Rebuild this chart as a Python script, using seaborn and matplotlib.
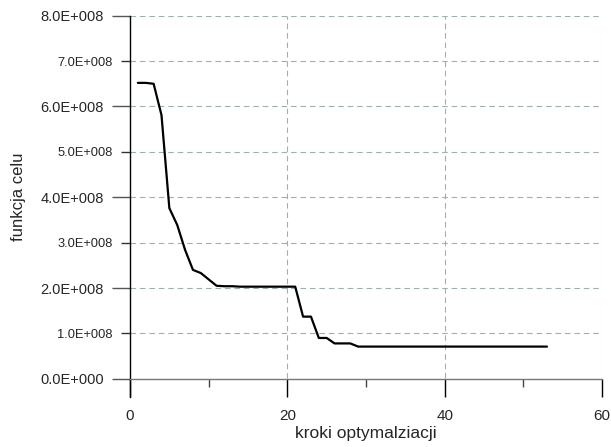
import matplotlib
matplotlib.use("Agg")
import matplotlib.pyplot as plt
import seaborn as sns
from matplotlib.ticker import FixedLocator, FuncFormatter

# dane
kroki = list(range(1, 54))
funkcja_celu = [
    6.52e8, 6.52e8, 6.50e8, 5.81e8, 3.76e8, 3.39e8, 2.84e8, 2.40e8, 2.33e8, 2.19e8,
    2.05e8, 2.04e8, 2.04e8, 2.03e8, 2.03e8, 2.03e8, 2.03e8, 2.03e8, 2.03e8, 2.03e8,
    2.03e8, 1.37e8, 1.37e8, 0.90e8, 0.90e8, 0.78e8, 0.78e8, 0.78e8, 0.71e8, 0.71e8,
    0.71e8, 0.71e8, 0.71e8, 0.71e8, 0.71e8, 0.71e8, 0.71e8, 0.71e8, 0.71e8, 0.71e8,
    0.71e8, 0.71e8, 0.71e8, 0.71e8, 0.71e8, 0.71e8, 0.71e8, 0.71e8, 0.71e8, 0.71e8,
    0.71e8, 0.71e8, 0.71e8,
]
x_major = [0, 20, 40, 60]
x_minor = [10, 30, 50]
y_major = [0, 2e8, 4e8, 6e8, 8e8]
y_minor = [1e8, 3e8, 5e8, 7e8]

sns.set_style("white")
plt.rcParams["font.family"] = ["Liberation Sans", "DejaVu Sans"]

fig = plt.figure(figsize=(6.11, 4.47), dpi=100)
ax = fig.add_axes([0.2128, 0.1119, 0.7725, 0.853])

sns.lineplot(x=kroki, y=funkcja_celu, color="black", linewidth=1.6, ax=ax)

ax.set_xlim(0, 60)
ax.set_ylim(-0.4e8, 8e8)

# siatka
grid_kw = dict(color="#9db1b1", linestyle=(0, (5, 3.5)), linewidth=0.8, zorder=0)
for v in y_major + y_minor:
    if v > 0:
        ax.axhline(v, **grid_kw)
for v in x_major[1:]:
    ax.axvline(v, **grid_kw)

# osie
ax.spines["top"].set_visible(False)
ax.spines["right"].set_visible(False)
ax.spines["left"].set_color("black")
ax.spines["left"].set_linewidth(1.0)
ax.spines["bottom"].set_position(("data", 0))
ax.spines["bottom"].set_color("#777777")
ax.spines["bottom"].set_linewidth(1.0)


def fmt_e(v, pos=None):
    if v == 0:
        return "0.0E+000"
    return f"{v / 1e8:.1f}E+008"


ax.xaxis.set_major_locator(FixedLocator(x_major))
ax.xaxis.set_minor_locator(FixedLocator(x_minor))
ax.yaxis.set_major_locator(FixedLocator(y_major))
ax.yaxis.set_minor_locator(FixedLocator(y_minor))
ax.yaxis.set_major_formatter(FuncFormatter(fmt_e))
ax.yaxis.set_minor_formatter(FuncFormatter(fmt_e))

ax.tick_params(axis="x", which="major", direction="out", length=13, width=1.0,
               color="black", labelsize=11, pad=9, bottom=True)
ax.tick_params(axis="x", which="minor", direction="out", length=6, width=1.0,
               color="#444444", bottom=True)
ax.tick_params(axis="y", which="major", direction="out", length=13, width=1.0,
               color="#555555", labelsize=10.5, pad=6, left=True)
ax.tick_params(axis="y", which="minor", direction="out", length=6.5, width=1.0,
               color="#333333", labelsize=9.3, pad=6, left=True)

ax.set_xlabel("kroki optymalziacji", fontsize=12.5, labelpad=2)
ax.set_ylabel("funkcja celu", fontsize=12)
ax.yaxis.set_label_coords(-0.22, 0.525)

fig.savefig("out.png", dpi=100)
